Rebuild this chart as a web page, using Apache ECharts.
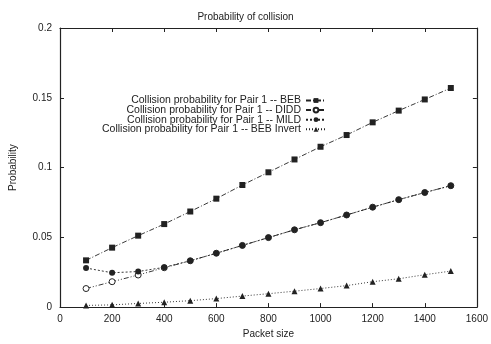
<!DOCTYPE html>
<html>
<head>
<meta charset="utf-8">
<script src="https://cdn.jsdelivr.net/npm/echarts@6/dist/echarts.min.js"></script>
<style>
  html, body { margin: 0; padding: 0; background: #fff; }
  #chart { width: 491px; height: 344px; }
</style>
</head>
<body>
<div id="chart"></div>
<script>
const packetSize = [100, 200, 300, 400, 500, 600, 700, 800, 900, 1000, 1100, 1200, 1300, 1400, 1500];
const beb = [0.0335, 0.0426, 0.0512, 0.0595, 0.0685, 0.0777, 0.0875, 0.0966, 0.1058, 0.1149, 0.1233, 0.1324, 0.1408, 0.1488, 0.157];
const didd = [0.0133, 0.0182, 0.0230, 0.0282, 0.0332, 0.0386, 0.0442, 0.0498, 0.0554, 0.0605, 0.0660, 0.0716, 0.0770, 0.0821, 0.0870];
const mild = [0.0280, 0.0246, 0.0255, 0.0285, 0.0332, 0.0386, 0.0442, 0.0498, 0.0554, 0.0605, 0.0660, 0.0716, 0.0770, 0.0821, 0.0870];
const bebInvert = [0.0012, 0.0016, 0.0026, 0.0035, 0.0046, 0.0061, 0.0079, 0.0096, 0.0114, 0.0133, 0.0154, 0.0182, 0.0203, 0.0232, 0.0258];

const names = [
    'Collision probability for Pair 1 -- BEB',
    'Collision probability for Pair 1 -- DIDD',
    'Collision probability for Pair 1 -- MILD',
    'Collision probability for Pair 1 -- BEB Invert'
];

const font = 'Liberation Sans, Arial, sans-serif';
const ink = '#222';

const chart = echarts.init(document.getElementById('chart'));

function makeSeries(name, values, symbol, size, dash, hollow) {
    return {
        name: name,
        type: 'line',
        data: values.map((v, i) => [packetSize[i], v]),
        symbol: symbol,
        symbolSize: size,
        showAllSymbol: true,
        lineStyle: { color: ink, width: 0.9, type: dash },
        itemStyle: hollow
            ? { color: '#fff', borderColor: ink, borderWidth: 1 }
            : { color: ink, borderWidth: 0 },
        emphasis: { disabled: true }
    };
}

const tickStyle = { inside: true, length: 4, lineStyle: { color: ink } };
const lineStyle = { show: true, onZero: false, lineStyle: { color: ink, width: 1.2 } };

const option = {
    animation: false,
    title: {
        text: 'Probability of collision',
        left: 'center',
        top: 7,
        textStyle: { fontFamily: font, fontSize: 10, fontWeight: 'normal', color: ink }
    },
    legend: {
        orient: 'vertical',
        right: 164,
        top: 95,
        padding: 0,
        align: 'right',
        itemWidth: 20,
        itemHeight: 6,
        itemGap: -1.4,
        textStyle: { fontFamily: font, fontSize: 10.5, color: ink },
        data: names
    },
    grid: { left: 59, right: 13, top: 28, bottom: 31 },
    xAxis: [{
        type: 'value',
        min: 0,
        max: 1600,
        interval: 200,
        name: 'Packet size',
        nameLocation: 'middle',
        nameGap: 18,
        nameTextStyle: { fontFamily: font, fontSize: 10, color: ink },
        axisLine: lineStyle,
        axisTick: tickStyle,
        axisLabel: { fontFamily: font, fontSize: 10, color: ink, margin: 7, formatter: v => String(v) },
        splitLine: { show: false }
    }, {
        type: 'value',
        position: 'top',
        min: 0,
        max: 1600,
        interval: 200,
        axisLine: lineStyle,
        axisTick: tickStyle,
        axisLabel: { show: false },
        splitLine: { show: false }
    }],
    yAxis: [{
        type: 'value',
        min: 0,
        max: 0.2,
        interval: 0.05,
        name: 'Probability',
        nameLocation: 'middle',
        nameGap: 42,
        nameTextStyle: { fontFamily: font, fontSize: 10, color: ink },
        axisLine: lineStyle,
        axisTick: Object.assign({ show: true }, tickStyle),
        axisLabel: { fontFamily: font, fontSize: 10, color: ink, margin: 8 },
        splitLine: { show: false }
    }, {
        type: 'value',
        position: 'right',
        min: 0,
        max: 0.2,
        interval: 0.05,
        axisLine: lineStyle,
        axisTick: Object.assign({ show: true }, tickStyle),
        axisLabel: { show: false },
        splitLine: { show: false }
    }],
    series: [
        makeSeries(names[0], beb, 'rect', 6, [5, 2, 1, 2], false),
        makeSeries(names[1], didd, 'circle', 6, [5, 2, 1, 2, 1, 2], true),
        makeSeries(names[2], mild, 'circle', 6, [2, 2], false),
        makeSeries(names[3], bebInvert, 'triangle', 6, [1, 2], false)
    ]
};

chart.setOption(option);

window.addEventListener('resize', () => {
    chart.resize();
});
</script>
</body>
</html>
